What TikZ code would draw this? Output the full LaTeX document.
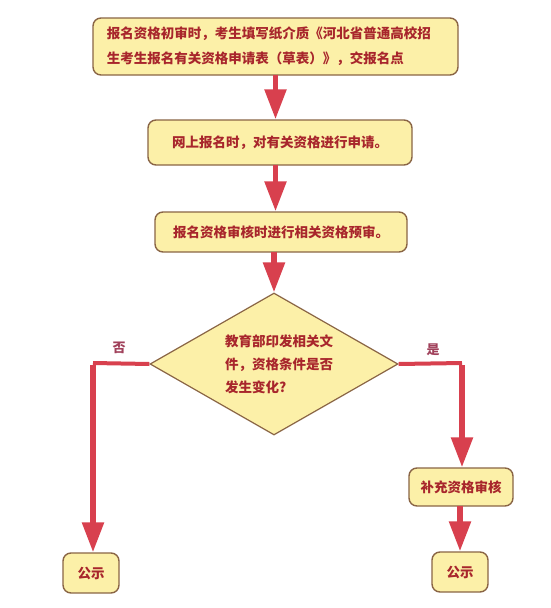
\documentclass[tikz,border=0pt]{standalone}
\usepackage{fontspec}
\newfontfamily\cjk{Noto Sans CJK SC}
\usetikzlibrary{shapes.geometric,arrows.meta}
\definecolor{boxfill}{HTML}{FCF0A8}
\definecolor{boxdraw}{HTML}{8A6545}
\definecolor{txtred}{HTML}{A8262C}
\definecolor{arrred}{HTML}{D8404E}
\definecolor{lblcol}{HTML}{A0405A}
\begin{document}
\begin{tikzpicture}[x=1pt,y=-1pt,
  stepbox/.style={draw=boxdraw,line width=1.4pt,fill=boxfill,rounded corners=8pt,
    text=txtred,font=\cjk\bfseries\fontsize{13.5}{25}\selectfont,inner sep=0pt,align=left},
  decide/.style={diamond,draw=boxdraw,line width=1.2pt,fill=boxfill,aspect=1.75,inner sep=0pt,
    text=txtred,font=\cjk\bfseries\fontsize{13.5}{23}\selectfont,align=left},
  arr/.style={draw=arrred,line width=5.5pt,-{Triangle[width=21pt,length=30pt]},shorten >=0pt},
  seg/.style={draw=arrred,line width=4pt},
  lbl/.style={text=lblcol,font=\cjk\bfseries\fontsize{13}{13}\selectfont}]
\useasboundingbox (0,0) rectangle (550,608);
\fill[white] (0,0) rectangle (550,608);
\node[stepbox,minimum width=365pt,minimum height=57pt] (b1) at (275.5,46.5)
  {报名资格初审时，考生填写纸介质《河北省普通高校招\\生考生报名有关资格申请表（草表）》，交报名点\hspace*{3em}};
\node[stepbox,minimum width=264pt,minimum height=45pt] (b2) at (280,142.5)
  {网上报名时，对有关资格进行申请。};
\node[stepbox,minimum width=252pt,minimum height=40pt] (b3) at (281,232)
  {报名资格审核时进行相关资格预审。};
\node[decide,minimum width=248pt,minimum height=142pt] (d) at (274,364) {};
\node[text=txtred,font=\cjk\bfseries\fontsize{13.5}{23}\selectfont,align=left,inner sep=0pt] (dt) at (279,364)
  {教育部印发相关文\\件，资格条件是否\\发生变化?\hspace*{3em}};
\node[stepbox,minimum width=56pt,minimum height=40pt,align=center] (g1) at (91,573) {公示};
\node[stepbox,minimum width=104pt,minimum height=38pt,align=center] (s1) at (461,487) {补充资格审核};
\node[stepbox,minimum width=56pt,minimum height=40pt,align=center] (g2) at (460,572) {公示};
\coordinate (lc) at (93,363);
\coordinate (rc) at (462,363);
\node[lbl] (no) at (119,348) {否};
\node[lbl] (yes) at (433,350) {是};
\draw[arr] ([yshift=1pt]b1.south) -- (b1.south |- b2.north);
\draw[arr] ([yshift=1pt]b2.south -| b1.south) -- (b3.north -| b1.south);
\draw[arr] ([yshift=1pt]b3.south -| d.north) -- (d.north);
\draw[seg] (d.west) -- (lc);
\draw[arr] ([yshift=-2pt]lc) -- (lc |- g1.north);
\draw[seg] (d.east) -- (rc);
\draw[arr] ([yshift=-2pt]rc) -- (rc |- s1.north);
\draw[arr] ([yshift=1pt]s1.south -| g2.north) -- (g2.north);
\end{tikzpicture}
\end{document}
